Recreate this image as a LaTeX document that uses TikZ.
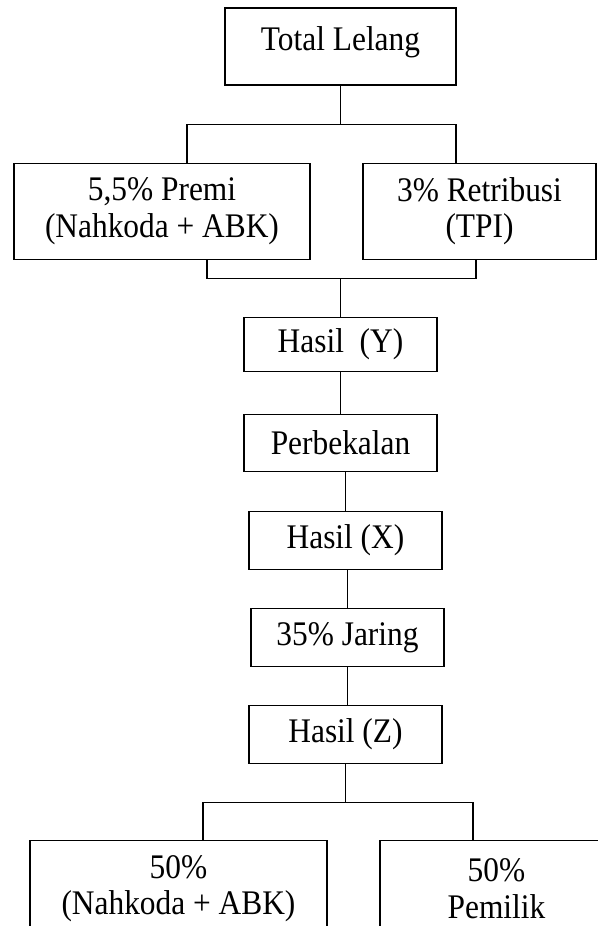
\documentclass[tikz,border=0pt]{standalone}
\usepackage{fontspec}
\setmainfont{Liberation Serif}[FakeStretch=0.91]
\usetikzlibrary{positioning, calc}
\tikzset{
  kotak/.style={rectangle, draw=black, line width=1.1pt, inner sep=0pt,
    align=center, font=\fontsize{34.5pt}{36.5pt}\selectfont},
  kotaklebar/.style={kotak, minimum width=296pt, minimum height=96pt},
  kotakkecil/.style={kotak, minimum width=193pt, minimum height=57pt},
  garis/.style={line width=1.1pt, color=black}
}
\begin{document}
\begin{tikzpicture}[x=1pt, y=1pt, node distance=38pt]
    \useasboundingbox (0,0) rectangle (597,-926);
    \node[kotak, minimum width=231pt, minimum height=77pt, text depth=15pt] (lelang) at (340.5,-46.5) {Total Lelang};
    \node[kotaklebar, below=77pt of lelang, xshift=-178.5pt] (premi) {5,5\% Premi\\(Nahkoda + ABK)};
    \node[kotaklebar, minimum width=233pt, below=77pt of lelang, xshift=139pt] (retribusi) {3\% Retribusi\\(TPI)};
    \node[kotakkecil, minimum height=54pt, below=231pt of lelang] (hasily) {Hasil\ \ (Y)};
    \node[kotakkecil, below=42pt of hasily] (bekal) {Perbekalan};
    \node[kotakkecil, minimum height=58pt, below=39pt of bekal, xshift=5pt] (hasilx) {Hasil (X)};
    \node[kotakkecil, minimum height=58pt, below=of hasilx, xshift=2pt] (jaring) {35\% Jaring};
    \node[kotakkecil, minimum height=58pt, below=of jaring, xshift=-2pt] (hasilz) {Hasil (Z)};
    \node[kotaklebar, minimum width=297pt, below=76pt of hasilz, xshift=-167pt] (abk) {50\%\\(Nahkoda + ABK)};
    \node[kotaklebar, minimum width=233pt, below=76pt of hasilz, xshift=151pt] (pemilik) {50\%\\Pemilik};

    \coordinate[below=39pt of lelang] (cabang);
    \coordinate[above=of hasily] (gabung);
    \coordinate[below=of hasilz] (cabangbawah);

    \draw[garis] (lelang) -- (cabang);
    \draw[garis] ([xshift=25pt]premi.north) |- (cabang) -| ([xshift=-23.5pt]retribusi.north);
    % premi dan retribusi dipotong dulu, sisanya menjadi hasil (Y)
    \draw[garis] ([xshift=45pt]premi.south) |- (gabung) -| ([xshift=-3.5pt]retribusi.south);
    \draw[garis] (gabung) -- (hasily);
    \draw[garis] (hasily) -- (bekal);
    \draw[garis] (hasilx.north) -- (hasilx.north |- bekal.south);
    \draw[garis] (jaring.north) -- (jaring.north |- hasilx.south);
    \draw[garis] (jaring.south) -- (jaring.south |- hasilz.north);
    \draw[garis] (hasilz) -- (cabangbawah);
    \draw[garis] ([xshift=24.5pt]abk.north) |- (cabangbawah) -| ([xshift=-23.5pt]pemilik.north);
  \end{tikzpicture}
\end{document}
